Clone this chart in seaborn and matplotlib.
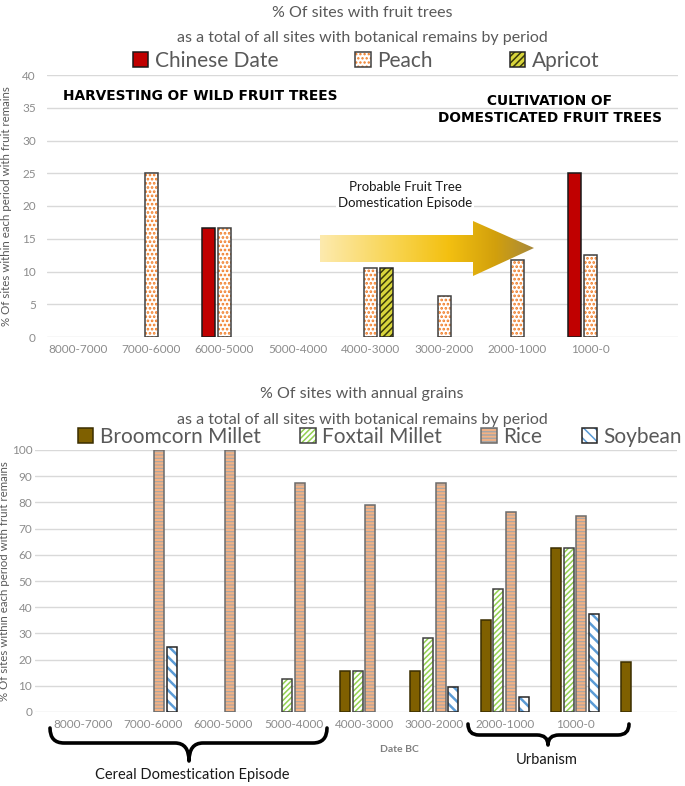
import numpy as np
import pandas as pd
import matplotlib
matplotlib.use("Agg")
import matplotlib.pyplot as plt
import seaborn as sns
from matplotlib.patches import Patch, Rectangle, Polygon, PathPatch
from matplotlib.path import Path
from matplotlib.colors import LinearSegmentedColormap, to_rgba

# ---- data ----
fruit_periods = ["8000-7000", "7000-6000", "6000-5000", "5000-4000",
                 "4000-3000", "3000-2000", "2000-1000", "1000-0"]
chinese_date = [0, 0, 16.67, 0, 0, 0, 0, 25.0]
peach = [0, 25.0, 16.67, 0, 10.53, 6.25, 11.76, 12.5]
apricot = [0, 0, 0, 0, 10.53, 0, 0, 0]

grain_periods = fruit_periods + [" "]
broomcorn = [0, 0, 0, 0, 15.8, 15.6, 35.3, 62.5, 19.0]
foxtail = [0, 0, 0, 12.5, 15.8, 28.1, 47.1, 62.5, 0]
rice = [0, 100, 100, 87.5, 79.0, 87.5, 76.5, 75.0, 0]
soybean = [0, 25.0, 0, 0, 0, 9.4, 5.9, 37.5, 0]

ylab = "% Of sites within each period with fruit remains"

# face colour, hatch, hatch colour (also the palette key), hatch width, outline colour
fruit_styles = {
    "Chinese Date": dict(face="#C00000", hatch=None, hc="#C00000", hw=1, edge="#1a1a1a"),
    "Peach": dict(face="white", hatch="....", hc="#F07A22", hw=1.3, edge="#404040"),
    "Apricot": dict(face="#D8D53C", hatch="/////", hc="#3A3A0A", hw=1.1, edge="#262626"),
}
grain_styles = {
    "Broomcorn Millet": dict(face="#7F6000", hatch=None, hc="#7F6000", hw=1, edge="#3a2e00"),
    "Foxtail Millet": dict(face="white", hatch="//////", hc="#92D050", hw=1.1, edge="#404040"),
    "Rice": dict(face="#F4B183", hatch="-----", hc="#A6A6A6", hw=0.8, edge="#6b6b6b"),
    "Soybean": dict(face="white", hatch="\\\\\\", hc="#5B9BD5", hw=1.8, edge="#262626"),
}

sns.set_theme(style="white")
plt.rcParams["font.family"] = ["Lato", "DejaVu Sans"]
plt.rcParams["hatch.linewidth"] = 1.1

W, H = 685, 786
fig = plt.figure(figsize=(W / 100, H / 100), dpi=100)
ax1 = fig.add_axes([47 / W, 1 - 337 / H, 631 / W, 262 / H])
ax2 = fig.add_axes([35 / W, 1 - 712 / H, 642 / W, 262 / H])


def restyle(p, st):
    p.set_facecolor(st["face"])
    p.set_edgecolor(st["hc"])
    p.set_linewidth(0)
    if st["hatch"]:
        p.set_hatch(st["hatch"])
        if hasattr(p, "set_hatch_linewidth"):
            p.set_hatch_linewidth(st["hw"])


def draw_bars(ax, periods, series, styles, width, gap):
    df = pd.DataFrame({"period": periods, **series})
    df = df.melt(id_vars="period", var_name="crop", value_name="pct")
    df = df[df["pct"] > 0]
    pal = {k: v["hc"] for k, v in styles.items()}
    sns.barplot(data=df, x="period", y="pct", hue="crop", order=periods,
                hue_order=list(series), palette=pal, saturation=1,
                width=width, gap=gap, errorbar=None, legend=False, ax=ax)
    for p in list(ax.patches):
        fc = p.get_facecolor()
        name = next(k for k, v in styles.items() if np.allclose(fc, to_rgba(v["hc"])))
        st = styles[name]
        restyle(p, st)
        ax.add_patch(Rectangle((p.get_x(), p.get_y()), p.get_width(), p.get_height(),
                               fill=False, edgecolor=st["edge"], lw=1.1, zorder=p.get_zorder() + 0.1))


def style_axes(ax, ymax, step, ypad):
    ax.set_ylim(0, ymax)
    ax.set_yticks(np.arange(0, ymax + 1, step))
    ax.yaxis.grid(True, color="#D9D9D9", lw=1)
    ax.set_axisbelow(True)
    for s in ax.spines.values():
        s.set_visible(False)
    ax.tick_params(axis="x", length=0, labelsize=8.5, colors="#8C8C8C", pad=5)
    ax.tick_params(axis="y", length=0, labelsize=8.5, colors="#8C8C8C", pad=ypad)
    ax.set_xlabel("")
    ax.set_ylabel(ylab, fontsize=8.3, color="#595959")


def legend_handles(styles):
    hs = []
    for st in styles.values():
        fill = Patch(facecolor="white")
        restyle(fill, st)
        rim = Patch(facecolor="none", edgecolor=st["edge"], lw=1.1)
        hs.append((fill, rim))
    return hs


# ---- top chart ----
draw_bars(ax1, fruit_periods,
          {"Chinese Date": chinese_date, "Peach": peach, "Apricot": apricot},
          fruit_styles, width=0.655, gap=0.19)
style_axes(ax1, 40, 5, 8)
ax1.set_xlim(-0.42, 8.19)
ax1.yaxis.set_label_coords(-0.055, 0.5)

# ---- bottom chart ----
draw_bars(ax2, grain_periods,
          {"Broomcorn Millet": broomcorn, "Foxtail Millet": foxtail,
           "Rice": rice, "Soybean": soybean},
          grain_styles, width=0.72, gap=0.21)
style_axes(ax2, 100, 10, 2)
ax2.set_xlim(-0.68, 8.45)
ax2.yaxis.set_label_coords(-0.039, 0.5)

# ---- legends ----
fig.legend(legend_handles(fruit_styles), list(fruit_styles), loc="center",
           bbox_to_anchor=(366 / W, 1 - 61 / H), ncol=3, frameon=False,
           fontsize=15, labelcolor="#595959", handlelength=0.75, handleheight=0.75,
           handletextpad=0.3, columnspacing=3.7)
fig.legend(legend_handles(grain_styles), list(grain_styles), loc="center",
           bbox_to_anchor=(380 / W, 1 - 437 / H), ncol=4, frameon=False,
           fontsize=15, labelcolor="#595959", handlelength=0.75, handleheight=0.75,
           handletextpad=0.3, columnspacing=1.9)

# ---- overlay in pixel coordinates for titles, arrow and braces ----
ov = fig.add_axes([0, 0, 1, 1])
ov.set_xlim(0, W)
ov.set_ylim(H, 0)
ov.axis("off")

tcol = "#595959"
ov.text(362, 13, "% Of sites with fruit trees", ha="center", va="center", fontsize=11.5, color=tcol)
ov.text(362, 38, "as a total of all sites with botanical remains by period",
        ha="center", va="center", fontsize=11.5, color=tcol)
ov.text(362, 394, "% Of sites with annual grains", ha="center", va="center", fontsize=11.5, color=tcol)
ov.text(362, 420, "as a total of all sites with botanical remains by period",
        ha="center", va="center", fontsize=11.5, color=tcol)

bold = dict(family=["DejaVu Sans"], fontweight="bold", color="black", fontsize=9.9)
ov.text(63, 96, "HARVESTING OF WILD FRUIT TREES", ha="left", va="center", **bold)
ov.text(550, 101, "CULTIVATION OF", ha="center", va="center", **bold)
ov.text(550, 118, "DOMESTICATED FRUIT TREES", ha="center", va="center", **bold)

ov.text(405, 195, "Probable Fruit Tree\nDomestication Episode", ha="center", va="center",
        fontsize=9.5, color="#1a1a1a", linespacing=1.35,
        bbox=dict(facecolor="white", edgecolor="none", pad=1))

# gradient arrow
arrow = Polygon([(320, 235), (473, 235), (473, 221), (534, 248),
                 (473, 276), (473, 262), (320, 262)], closed=True,
                facecolor="none", edgecolor="none")
ov.add_patch(arrow)
cmap = LinearSegmentedColormap.from_list(
    "gold", [(0, "#FDEAAE"), (0.35, "#F8D44F"), (0.6, "#F3C011"),
             (0.82, "#D2A00C"), (1, "#A8893C")])
grad = np.tile(np.linspace(0, 1, 256), (8, 1))
img = ov.imshow(grad, cmap=cmap, extent=(320, 534, 276, 221), aspect="auto",
                interpolation="bilinear")
img.set_clip_path(arrow)
ov.set_xlim(0, W)
ov.set_ylim(H, 0)


def brace(x0, x1, xc, ytop, ymid, ytip, r):
    verts = [(x0, ytop), (x0, ymid), (x0 + r, ymid),
             (xc - r, ymid), (xc, ymid), (xc, ytip),
             (xc, ymid), (xc + r, ymid),
             (x1 - r, ymid), (x1, ymid), (x1, ytop)]
    codes = [Path.MOVETO, Path.CURVE3, Path.CURVE3,
             Path.LINETO, Path.CURVE3, Path.CURVE3,
             Path.CURVE3, Path.CURVE3,
             Path.LINETO, Path.CURVE3, Path.CURVE3]
    ov.add_patch(PathPatch(Path(verts, codes), facecolor="none", edgecolor="black",
                           lw=2.6, capstyle="round", joinstyle="round"))


brace(50, 327, 189, 728, 743, 761, 14)
brace(468, 629, 548, 724, 735, 745, 11)

ov.text(192, 775, "Cereal Domestication Episode", ha="center", va="center",
        fontsize=10.5, color="#1a1a1a")
ov.text(547, 760, "Urbanism", ha="center", va="center", fontsize=10.5, color="#1a1a1a")
ov.text(399, 749, "Date BC", ha="center", va="center", fontsize=7.5,
        fontweight="bold", color="#7F7F7F")

fig.savefig("out.png", dpi=100)
